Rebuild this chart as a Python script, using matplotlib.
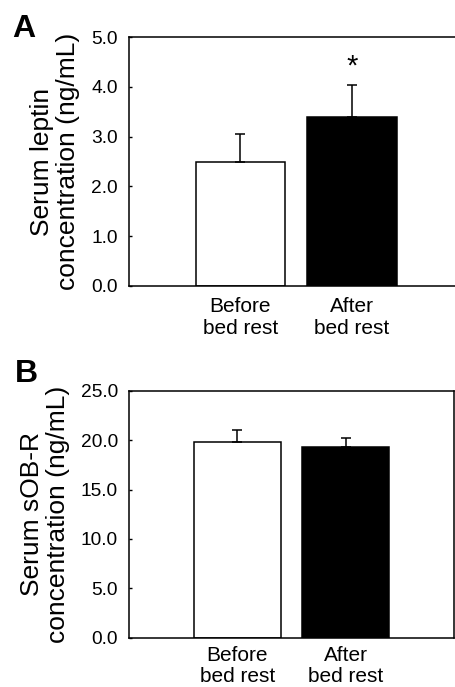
import matplotlib
matplotlib.use("Agg")
import matplotlib.pyplot as plt

plt.rcParams['font.family'] = ['Liberation Sans', 'DejaVu Sans']

categories = ["Before\nbed rest", "After\nbed rest"]
leptin_mean = [2.50, 3.39]
leptin_err = [0.56, 0.65]
sobr_mean = [19.8, 19.33]
sobr_err = [1.2, 0.87]
bar_colors = ["white", "black"]

W, H = 455, 687
fig = plt.figure(figsize=(W / 100, H / 100), dpi=100)

def px_axes(left, top, right, bottom):
    return fig.add_axes([left / W, (H - bottom) / H, (right - left) / W, (bottom - top) / H])

def style(ax, ylim, yticks, ylabel, right_spine=True, xls=1.2, xpad=8):
    ax.set_xlim(0, 3)
    ax.set_ylim(*ylim)
    ax.set_yticks(yticks)
    ax.set_yticklabels([f"{t:.1f}" for t in yticks], fontsize=13.8)
    ax.set_xticks([1, 2])
    ax.set_xticklabels(categories, fontsize=15, linespacing=xls)
    ax.tick_params(axis='x', length=0, pad=xpad)
    ax.tick_params(axis='y', direction='in', length=2.5, width=1, pad=8)
    for s in ax.spines.values():
        s.set_linewidth(1.1)
    ax.spines['right'].set_visible(right_spine)
    ax.set_ylabel(ylabel, fontsize=19, linespacing=1.1, labelpad=8, multialignment='center')

# Panel A
axA = px_axes(129, 37, 129 + 3 * 111.5, 286)
axA.bar([1, 2], leptin_mean, width=0.8, color=bar_colors, edgecolor='black', linewidth=1.1)
axA.errorbar([1, 2], leptin_mean, yerr=[[0, 0], leptin_err], fmt='none', ecolor='black',
             elinewidth=1.1, capsize=3.5, capthick=1.1)
style(axA, (0, 5), [0, 1, 2, 3, 4, 5], "Serum leptin\nconcentration (ng/mL)", right_spine=False)
axA.text(2, 4.4, "*", ha='center', va='center', fontsize=21)
fig.text(12 / W, 1 - 37 / H, "A", fontsize=23, fontweight='bold', ha='left', va='baseline')

# Panel B
axB = px_axes(129, 390.7, 454, 637.7)
axB.bar([1, 2], sobr_mean, width=0.8, color=bar_colors, edgecolor='black', linewidth=1.1)
axB.errorbar([1, 2], sobr_mean, yerr=[[0, 0], sobr_err], fmt='none', ecolor='black',
             elinewidth=1.1, capsize=3.5, capthick=1.1)
style(axB, (0, 25), [0, 5, 10, 15, 20, 25], "Serum sOB-R\nconcentration (ng/mL)",
      xls=1.1, xpad=6)
fig.text(15 / W, 1 - 382 / H, "B", fontsize=23, fontweight='bold', ha='left', va='baseline')

fig.savefig("out.png", dpi=100)
